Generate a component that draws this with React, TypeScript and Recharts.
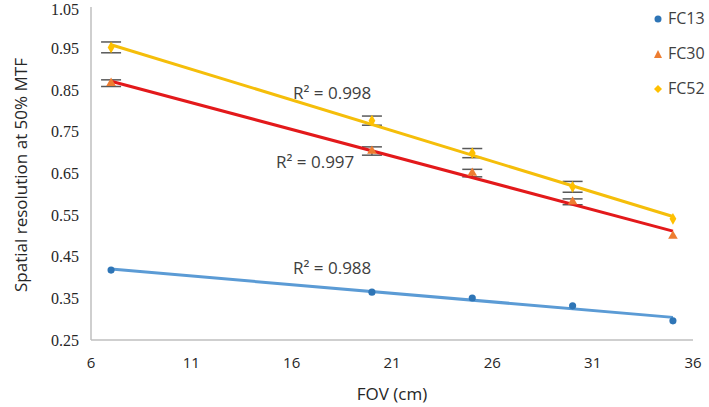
import React from "react";
import { ComposedChart, XAxis, YAxis, ZAxis, Line, Scatter, ErrorBar, Legend } from "recharts";

// FOV in cm, spatial resolution at 50% MTF
const fov = [7, 20, 25, 30, 35];
const fc13 = [0.418, 0.365, 0.351, 0.332, 0.296];
const fc30 = [0.867, 0.704, 0.651, 0.582, 0.5];
const fc52 = [0.953, 0.777, 0.699, 0.618, 0.541];
const fc30Err = [0.008, 0.01, 0.009, 0.007, 0];
const fc52Err = [0.013, 0.011, 0.011, 0.013, 0];

const xTicks = [6, 11, 16, 21, 26, 31, 36];
const yTicks = [0.25, 0.35, 0.45, 0.55, 0.65, 0.75, 0.85, 0.95, 1.05];

const rSquared = [
  { label: "R² = 0.998", x: 293, y: 92 },
  { label: "R² = 0.997", x: 276, y: 161 },
  { label: "R² = 0.988", x: 293, y: 267 },
];

const series = [
  { name: "FC13", values: fc13, err: null as number[] | null, marker: "#2E75B6", line: "#5B9BD5", shape: "circle" },
  { name: "FC30", values: fc30, err: fc30Err, marker: "#ED7D31", line: "#E3191B", shape: "triangle" },
  { name: "FC52", values: fc52, err: fc52Err, marker: "#FFC000", line: "#F5BE0A", shape: "diamond" },
];

const points = (values: number[], err: number[] | null) =>
  fov.map((x, i) => ({ x, y: values[i], err: err ? err[i] : 0 }));

// least-squares trendline over the FOV range, like the spreadsheet one
function trend(values: number[]) {
  const n = fov.length;
  const mx = fov.reduce((a, b) => a + b, 0) / n;
  const my = values.reduce((a, b) => a + b, 0) / n;
  let sxy = 0;
  let sxx = 0;
  fov.forEach((x, i) => {
    sxy += (x - mx) * (values[i] - my);
    sxx += (x - mx) * (x - mx);
  });
  const k = sxy / sxx;
  const x0 = fov[0];
  const x1 = fov[n - 1];
  return [
    { x: x0, y: my + k * (x0 - mx) },
    { x: x1, y: my + k * (x1 - mx) },
  ];
}

function LegendMarker({ shape, color }: { shape: string; color: string }) {
  return (
    <svg width={12} height={12} style={{ verticalAlign: "middle" }}>
      {shape === "circle" && <circle cx={6} cy={6} r={3.5} fill={color} />}
      {shape === "triangle" && <polygon points="6,2 10,10 2,10" fill={color} />}
      {shape === "diamond" && <polygon points="6,2 10,6 6,10 2,6" fill={color} />}
    </svg>
  );
}

const renderLegend = () => (
  <div style={{ fontFamily: "'Open Sans', sans-serif", fontSize: 16, color: "#404040" }}>
    {series.map((s) => (
      <div key={s.name} style={{ height: 35, lineHeight: "35px", whiteSpace: "nowrap" }}>
        <LegendMarker shape={s.shape} color={s.marker} />
        <span style={{ marginLeft: 4, verticalAlign: "middle" }}>{s.name}</span>
      </div>
    ))}
  </div>
);

const YTick = (props: any) => {
  const { x, y, payload } = props;
  return (
    <text x={x} y={y} textAnchor="end" dominantBaseline="central" fill="#262626"
      style={{ fontFamily: "'Liberation Serif', 'Times New Roman', serif", fontSize: 16 }}>
      {Number(payload.value).toFixed(2)}
    </text>
  );
};

export default function App() {
  return (
    <div style={{ position: "absolute", left: 0, top: 0, background: "#fff" }}>
      <ComposedChart width={709} height={407} margin={{ top: 7, right: 16, bottom: 0, left: 0 }}>
        <XAxis
          type="number"
          dataKey="x"
          domain={[6, 36]}
          ticks={xTicks}
          allowDataOverflow
          tickLine={false}
          tickSize={0}
          tickMargin={17}
          height={67}
          stroke="#BFBFBF"
          strokeWidth={1.5}
          tick={{ fill: "#262626", fontFamily: "'Open Sans', sans-serif", fontSize: 15 }}
          label={{
            content: () => (
              <text x={392} y={393} textAnchor="middle" dominantBaseline="central" fill="#262626"
                style={{ fontFamily: "'Open Sans', sans-serif", fontSize: 17 }}>
                FOV (cm)
              </text>
            ),
          }}
        />
        <YAxis
          type="number"
          dataKey="y"
          domain={[0.25, 1.05]}
          ticks={yTicks}
          allowDataOverflow
          tickLine={false}
          tickSize={0}
          tickMargin={12}
          width={91}
          stroke="#BFBFBF"
          strokeWidth={1.5}
          tick={<YTick />}
          label={{
            content: () => (
              <text x={20} y={175} transform="rotate(-90 20 175)" textAnchor="middle" dominantBaseline="central"
                fill="#262626" style={{ fontFamily: "'Open Sans', sans-serif", fontSize: 17 }}>
                Spatial resolution at 50% MTF
              </text>
            ),
          }}
        />
        <ZAxis type="number" range={[40, 40]} />
        <Legend
          layout="vertical"
          align="center"
          verticalAlign="middle"
          content={renderLegend}
          wrapperStyle={{ left: 652, top: 0, width: 60 }}
        />
        {series.map((s) => (
          <Scatter
            key={s.name}
            name={s.name}
            data={points(s.values, s.err)}
            fill={s.marker}
            shape={s.shape as any}
            isAnimationActive={false}
            legendType="none"
          >
            {s.err && (
              <ErrorBar dataKey="err" direction="y" width={10} stroke="#595959" strokeWidth={1.5} />
            )}
          </Scatter>
        ))}
        {series.map((s) => (
          <Line
            key={s.name + "-trend"}
            data={trend(s.values)}
            dataKey="y"
            type="linear"
            stroke={s.line}
            strokeWidth={3}
            dot={false}
            activeDot={false}
            legendType="none"
            isAnimationActive={false}
          />
        ))}
        {rSquared.map((r) => (
          <text key={r.label} x={r.x} y={r.y} dominantBaseline="central" fill="#404040"
            style={{ fontFamily: "'Open Sans', sans-serif", fontSize: 17 }}>
            {r.label}
          </text>
        ))}
      </ComposedChart>
    </div>
  );
}
